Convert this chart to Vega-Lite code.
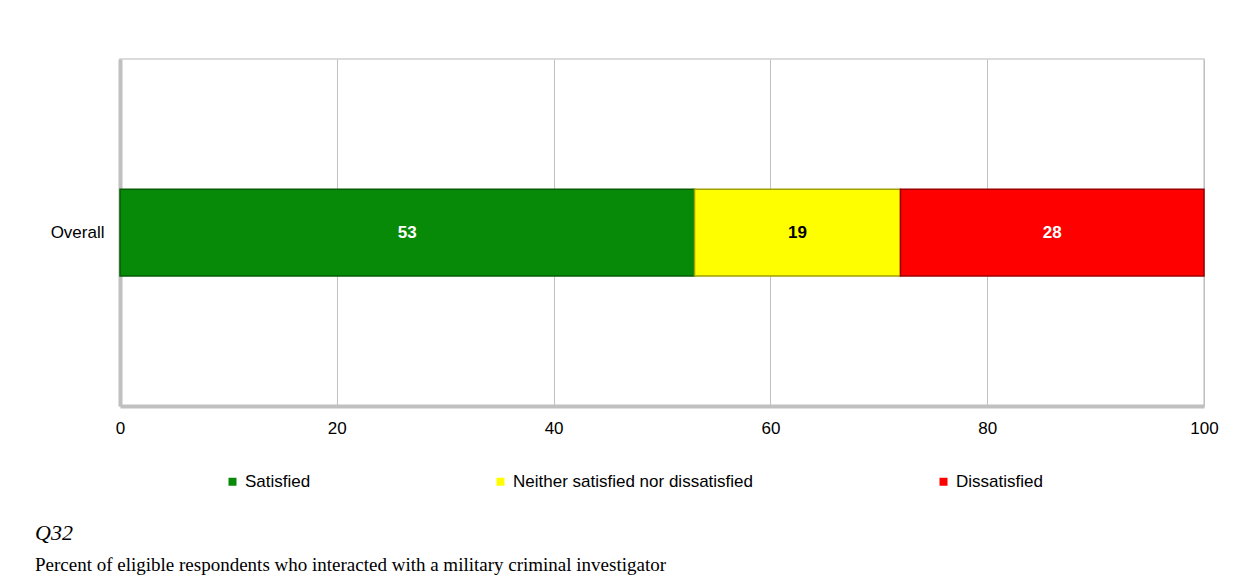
{
  "$schema": "https://vega.github.io/schema/vega-lite/v6.json",
  "width": 1084,
  "height": 347,
  "autosize": {"type": "none"},
  "padding": {"left": 120, "top": 59, "right": 40, "bottom": 173},
  "background": "white",
  "config": {
    "font": "Liberation Sans",
    "view": {"stroke": "#d0d0d0", "strokeWidth": 1.5},
    "axis": {"labelFont": "Liberation Sans", "labelColor": "#000000"}
  },
  "title": {
    "text": "Q32",
    "subtitle": "Percent of eligible respondents who interacted with a military criminal investigator",
    "orient": "bottom",
    "anchor": "start",
    "frame": "group",
    "dx": -85,
    "offset": 33,
    "font": "Liberation Serif",
    "fontSize": 22,
    "fontStyle": "italic",
    "fontWeight": "normal",
    "color": "#000000",
    "subtitleFont": "Liberation Serif",
    "subtitleFontSize": 19,
    "subtitleColor": "#000000",
    "subtitlePadding": 11
  },
  "data": {
    "values": [
      {"question": "Overall", "response": "Satisfied", "rank": 1, "value": 53},
      {"question": "Overall", "response": "Neither satisfied nor dissatisfied", "rank": 2, "value": 19},
      {"question": "Overall", "response": "Dissatisfied", "rank": 3, "value": 28}
    ]
  },
  "encoding": {
    "y": {
      "field": "question",
      "type": "nominal",
      "title": null,
      "scale": {"paddingInner": 0.5, "paddingOuter": 0.75},
      "axis": {
        "labelFontSize": 17,
        "labelPadding": 16,
        "ticks": false,
        "domainColor": "#c0c0c0",
        "domainWidth": 4
      }
    }
  },
  "layer": [
    {
      "mark": {"type": "bar", "strokeWidth": 1.5},
      "encoding": {
        "x": {
          "field": "value",
          "type": "quantitative",
          "stack": "zero",
          "title": null,
          "scale": {"domain": [0, 100], "nice": false},
          "axis": {
            "values": [0, 20, 40, 60, 80, 100],
            "labelFontSize": 17,
            "labelPadding": 14,
            "labelFlush": false,
            "ticks": false,
            "grid": true,
            "gridColor": "#c0c0c0",
            "gridWidth": 1,
            "domainColor": "#c0c0c0",
            "domainWidth": 4
          }
        },
        "order": {"field": "rank", "type": "quantitative"},
        "color": {
          "field": "response",
          "type": "nominal",
          "title": null,
          "scale": {
            "domain": ["Satisfied", "Neither satisfied nor dissatisfied", "Dissatisfied"],
            "range": ["#078a07", "#fefe00", "#fe0000"]
          },
          "legend": {
            "orient": "none",
            "direction": "horizontal",
            "legendX": 104,
            "legendY": 414,
            "columns": 3,
            "columnPadding": 181,
            "symbolType": "square",
            "symbolSize": 64,
            "symbolStrokeWidth": 0,
            "labelFontSize": 17,
            "labelOffset": 4,
            "labelColor": "#000000",
            "labelLimit": 400
          }
        },
        "stroke": {
          "field": "response",
          "type": "nominal",
          "scale": {
            "domain": ["Satisfied", "Neither satisfied nor dissatisfied", "Dissatisfied"],
            "range": ["#045c04", "#a0a000", "#9a0000"]
          },
          "legend": null
        }
      }
    },
    {
      "mark": {"type": "text", "fontSize": 17, "fontWeight": "bold", "baseline": "middle", "align": "center"},
      "encoding": {
        "x": {"field": "value", "type": "quantitative", "stack": "zero", "bandPosition": 0.5},
        "order": {"field": "rank", "type": "quantitative"},
        "text": {"field": "value", "type": "quantitative"},
        "color": {
          "condition": {"test": "datum.response === 'Neither satisfied nor dissatisfied'", "value": "#000000"},
          "value": "#ffffff"
        }
      }
    }
  ]
}
